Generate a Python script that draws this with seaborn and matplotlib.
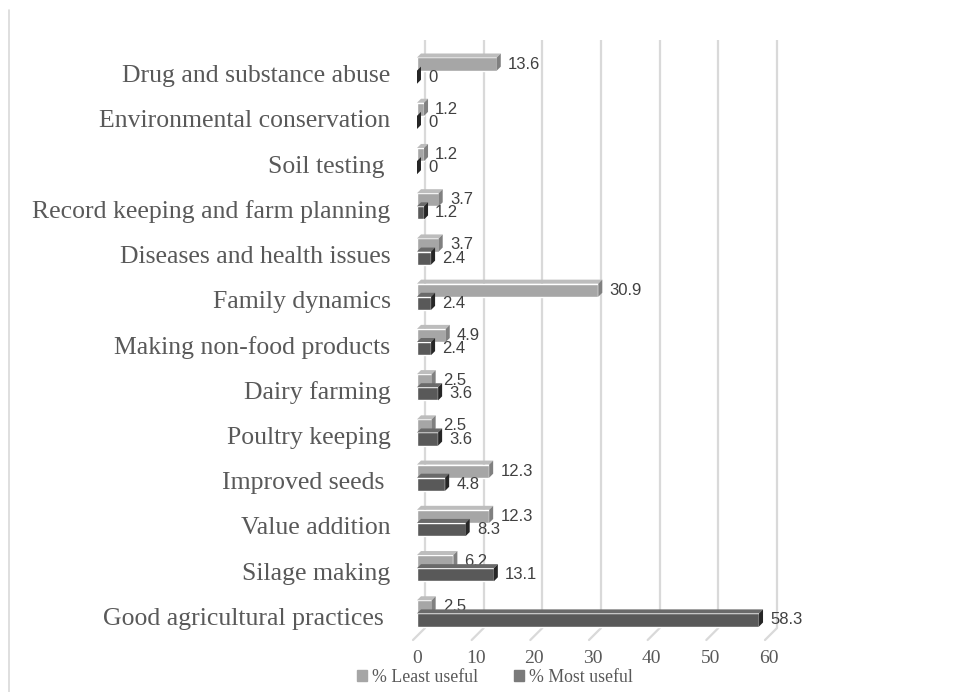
import matplotlib
matplotlib.use('Agg')
import matplotlib.pyplot as plt
import matplotlib.patches as mpatches
import matplotlib.transforms as mtransforms
from matplotlib.lines import Line2D
import pandas as pd
import seaborn as sns

# topics, top to bottom as in the chart
topics = ['Drug and substance abuse', 'Environmental conservation',
          'Soil testing ', 'Record keeping and farm planning',
          'Diseases and health issues', 'Family dynamics',
          'Making non-food products', 'Dairy farming', 'Poultry keeping',
          'Improved seeds ', 'Value addition', 'Silage making',
          'Good agricultural practices ']
least_useful = [13.6, 1.2, 1.2, 3.7, 3.7, 30.9, 4.9, 2.5, 2.5, 12.3, 12.3,
                6.2, 2.5]
most_useful = [0, 0, 0, 1.2, 2.4, 2.4, 2.4, 3.6, 3.6, 4.8, 8.3, 13.1, 58.3]
series_names = ['% Least useful', '% Most useful']
x_ticks = [0, 10, 20, 30, 40, 50, 60]

front_cols = ['#a6a6a6', '#595959']
top_cols = ['#bdbdbd', '#6a6a6a']
side_cols = ['#808080', '#262626']
legend_cols = ['#a6a6a6', '#7a7a7a']
text_col = '#595959'


def make_frame():
    rows = []
    for name, vals in zip(series_names, [least_useful, most_useful]):
        for t, v in zip(topics, vals):
            rows.append({'topic': t, 'value': v, 'series': name})
    return pd.DataFrame(rows)


def add_depth(ax, container, top_col, side_col, z, dx, dy):
    # fake the excel 3d look with a top face and a right side face
    for p in container.patches:
        x0, y0 = p.get_x(), p.get_y()
        w, h = p.get_width(), p.get_height()
        top = [(x0, y0), (x0 + w, y0), (x0 + w + dx, y0 - dy),
               (x0 + dx, y0 - dy)]
        side = [(x0 + w, y0), (x0 + w, y0 + h), (x0 + w + dx, y0 + h - dy),
                (x0 + w + dx, y0 - dy)]
        ax.add_patch(mpatches.Polygon(top, closed=True, facecolor=top_col,
                                      edgecolor='none', zorder=z))
        ax.add_patch(mpatches.Polygon(side, closed=True, facecolor=side_col,
                                      edgecolor='none', zorder=z))
        p.set_zorder(z)


def main():
    sns.set_style('white')
    plt.rcParams['font.family'] = ['Liberation Serif', 'DejaVu Serif']

    fig = plt.figure(figsize=(9.55, 6.92), dpi=100)
    ax = fig.add_axes([417 / 955, 1 - 636 / 692, 352 / 955, 588 / 692])

    df = make_frame()
    sns.barplot(data=df, y='topic', x='value', hue='series', orient='h',
                palette=front_cols, width=0.58, saturation=1, ax=ax,
                legend=False)

    ax.set_xlim(0, 60)
    ax.set_ylim(len(topics) - 0.5, -0.5)
    ax.set_xticks(x_ticks)
    ax.set_xlabel('')
    ax.set_ylabel('')
    for s in ax.spines.values():
        s.set_visible(False)
    ax.tick_params(axis='both', length=0, colors=text_col)
    ax.tick_params(axis='x', pad=10, labelsize=14)
    ax.tick_params(axis='y', pad=19, labelsize=18.5)
    # category names sit a little below the bar pair
    nudge = mtransforms.Affine2D().translate(0, -3)
    for lab in ax.get_yticklabels():
        lab.set_transform(lab.get_transform() + nudge)

    # back wall gridlines, shifted up and right
    wall = mtransforms.offset_copy(ax.get_xaxis_transform(), fig=fig,
                                   x=8, y=8, units='dots')
    ax.vlines(x_ticks, 0, 1, transform=wall, colors='#d9d9d9', lw=1.6,
              zorder=0, clip_on=False)
    # floor ticks
    floor = mtransforms.offset_copy(ax.get_xaxis_transform(), fig=fig,
                                    x=-4, y=-4, units='dots')
    for t in x_ticks:
        ax.annotate('', xy=(t, 0), xycoords=floor, xytext=(12, 12),
                    textcoords='offset pixels', annotation_clip=False,
                    arrowprops=dict(arrowstyle='-', color='#d9d9d9',
                                    lw=1.6, shrinkA=0, shrinkB=0))

    depth_px = 4
    dx = depth_px * 60 / 352
    dy = depth_px * len(topics) / 588
    for i, cont in enumerate(ax.containers):
        z = 3 if i == 0 else 5
        add_depth(ax, cont, top_cols[i], side_cols[i], z, dx, dy)
        labels = ax.bar_label(cont, fmt='{:g}', padding=8, fontsize=12,
                              color='#404040', family='Liberation Sans')
        for lab in labels:
            lab.set_zorder(4 if i == 0 else 6)

    handles = [mpatches.Patch(color=c, label=n)
               for c, n in zip(legend_cols, series_names)]
    fig.legend(handles=handles, loc='center', ncol=2, frameon=False,
               bbox_to_anchor=(495 / 955, 1 - 677 / 692), fontsize=12.8,
               handlelength=0.55, handleheight=0.55, handletextpad=0.3,
               columnspacing=2.0, labelcolor=text_col)

    fig.add_artist(Line2D([9 / 955, 9 / 955], [0, 1 - 10 / 692],
                          color='#d9d9d9', lw=1.2))

    fig.savefig('out.png', dpi=100)


if __name__ == '__main__':
    main()
